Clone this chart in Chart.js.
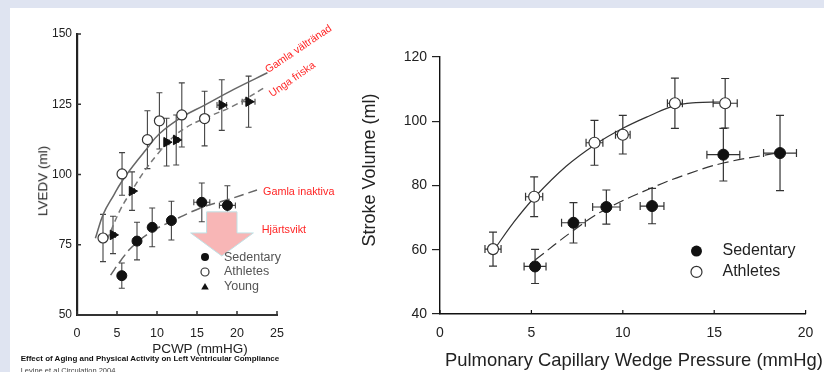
<!DOCTYPE html>
<html>
<head>
<meta charset="utf-8">
<script src="https://cdn.jsdelivr.net/npm/chart.js@4.4.1/dist/chart.umd.min.js"></script>
<style>
html, body { margin: 0; padding: 0; }
body { width: 824px; height: 372px; overflow: hidden; position: relative; background: #dfe4f1; font-family: "Liberation Sans", Arial, sans-serif; }
#paper { position: absolute; left: 10px; top: 8px; width: 814px; height: 364px; background: #fff; }
canvas { position: absolute; top: 0; }
#lvChart { left: 0; }
#svChart { left: 345px; }
.t { position: absolute; white-space: nowrap; line-height: 1; }
.red { color: #ff2424; font-size: 10.6px; }
.rot { transform-origin: 0 50%; }
.ytitle { transform: translate(-50%, -50%) rotate(-90deg); }
</style>
</head>
<body>
<div id="paper"></div>
<canvas id="lvChart" width="345" height="372"></canvas>
<canvas id="svChart" width="479" height="372"></canvas>

<div class="t ytitle" style="left:43px;top:181px;font-size:13.5px;color:#222">LVEDV (ml)</div>
<div class="t" style="left:200px;top:341.6px;font-size:13.5px;color:#222;transform:translateX(-50%)">PCWP (mmHG)</div>
<div class="t" style="left:20.7px;top:355.2px;font-size:8px;font-weight:bold;color:#111">Effect of Aging and Physical Activity on Left Ventricular Compliance</div>
<div class="t" style="left:20.7px;top:367.2px;font-size:7.5px;color:#444">Levine et al Circulation 2004</div>
<div class="t red rot" style="left:266px;top:64.7px;transform:rotate(-34deg)">Gamla vältränad</div>
<div class="t red rot" style="left:269.5px;top:89.2px;transform:rotate(-35deg)">Unga friska</div>
<div class="t red" style="left:263px;top:185.9px;font-size:10.8px">Gamla inaktiva</div>
<div class="t red" style="left:261.7px;top:224.2px;font-size:10.8px">Hjärtsvikt</div>

<div class="t ytitle" style="left:369px;top:170px;font-size:18px;color:#222">Stroke Volume (ml)</div>
<div class="t" style="left:445px;top:351.4px;font-size:18.4px;color:#222">Pulmonary Capillary Wedge Pressure (mmHg)</div>

<script>
// ---- left panel: LVEDV vs PCWP ----
const lvXTicks = [0, 5, 10, 15, 20, 25];
const lvYTicks = [50, 75, 100, 125, 150];

const lvSedX    = [5.6, 7.5, 9.4, 11.8, 15.6, 18.8];
const lvSedY    = [64, 76.3, 81.2, 83.6, 90.1, 89];
const lvSedErrY = [4.5, 6.7, 6.9, 6.9, 6.9, 7];
const lvSedErrX = [0.4, 0.4, 0.4, 0.4, 1.0, 1.0];

const lvAthX    = [3.25, 5.63, 8.8, 10.3, 13.1, 15.95];
const lvAthY    = [77.4, 100.2, 112.4, 119.1, 121.2, 119.9];
const lvAthErrY = [8.4, 7.6, 10.3, 10, 11.4, 9.7];
const lvAthErrX = [0.3, 0.3, 0.3, 0.3, 0.3, 0.4];

const lvYngX    = [4.5, 6.88, 11.2, 12.4, 18.1, 21.45];
const lvYngY    = [78.5, 94.1, 111.5, 112.3, 124.7, 125.9];
const lvYngErrY = [6.65, 6.85, 8.5, 8.9, 9, 9.1];
const lvYngErrX = [0.3, 0.3, 0.3, 0.3, 0.6, 0.8];

// fitted curves
const lvFitAthX = [2.3, 3.3, 4.6, 5.6, 7.1, 8.6, 10.3, 13.1, 15.9, 19.6, 23.8];
const lvFitAthY = [77.3, 86, 92.7, 97.5, 103.4, 108.7, 114.5, 120.4, 124.6, 130.3, 136.2];
const lvFitYngX = [3.75, 5.4, 6.9, 8.5, 10, 11.7, 13.5, 15.8, 19.6, 23.3];
const lvFitYngY = [76.7, 87.4, 94.5, 101.5, 107, 112.5, 116.5, 119.8, 124.5, 130.7];
const lvFitSedX = [4.2, 5.5, 6.9, 9.2, 11.7, 15.8, 18.8, 22.5];
const lvFitSedY = [64.2, 69.5, 74.3, 79.5, 83.2, 88.5, 91, 94.5];

// ---- right panel: stroke volume vs PCWP ----
const svXTicks = [0, 5, 10, 15, 20];
const svYTicks = [40, 60, 80, 100, 120];

const svSedX    = [5.2, 7.3, 9.1, 11.6, 15.5, 18.6];
const svSedY    = [54.8, 68.4, 73.3, 73.6, 89.6, 90.1];
const svSedErrY = [5.3, 6.3, 5.3, 5.5, 8.2, 11.7];
const svSedErrX = [0.6, 0.65, 0.75, 0.65, 0.9, 0.9];

const svAthX    = [2.9, 5.15, 8.45, 10.0, 12.85, 15.6];
const svAthY    = [60.2, 76.5, 93.3, 95.8, 105.6, 105.6];
const svAthErrY = [5.3, 6.2, 7, 6, 7.8, 7.7];
const svAthErrX = [0.44, 0.47, 0.46, 0.4, 0.41, 0.66];

const svFitAthX = [3.0, 4.0, 5.2, 6.9, 8.5, 10, 11.5, 12.8, 14, 15.3];
const svFitAthY = [60.3, 68.3, 76.5, 86, 92.8, 97.8, 101.8, 104.8, 105.8, 106];
const svFitSedX = [5.2, 7.3, 9.0, 11.6, 13.5, 15.5, 18.3];
const svFitSedY = [56.8, 66, 72.4, 79.3, 83.5, 87, 90];

const pts = (xs, ys) => xs.map((x, i) => ({ x: x, y: ys[i] }));

function mark(ctx, style, x, y, r) {
    ctx.beginPath();
    if (style === 'tri') {
        ctx.moveTo(x, y - r);
        ctx.lineTo(x + r * 0.95, y + r * 0.65);
        ctx.lineTo(x - r * 0.95, y + r * 0.65);
        ctx.closePath();
        ctx.fill();
    } else {
        ctx.arc(x, y, r, 0, Math.PI * 2);
        if (style === 'open') { ctx.fillStyle = '#fff'; ctx.fill(); ctx.stroke(); }
        else ctx.fill();
    }
}

const errorBars = {
    id: 'errorBars',
    beforeDatasetsDraw(chart, args, opts) {
        const ctx = chart.ctx, xs = chart.scales.x, ys = chart.scales.y;
        const c = opts.cap;
        ctx.save();
        ctx.strokeStyle = opts.color;
        ctx.lineWidth = opts.width;
        chart.data.datasets.forEach(ds => {
            if (!ds.errY) return;
            ds.data.forEach((p, i) => {
                const px = xs.getPixelForValue(p.x), py = ys.getPixelForValue(p.y);
                const y1 = ys.getPixelForValue(p.y + ds.errY[i]);
                const y2 = ys.getPixelForValue(p.y - ds.errY[i]);
                const x1 = xs.getPixelForValue(p.x - ds.errX[i]);
                const x2 = xs.getPixelForValue(p.x + ds.errX[i]);
                ctx.beginPath();
                ctx.moveTo(px, y1); ctx.lineTo(px, y2);
                ctx.moveTo(px - c, y1); ctx.lineTo(px + c, y1);
                ctx.moveTo(px - c, y2); ctx.lineTo(px + c, y2);
                ctx.moveTo(x1, py); ctx.lineTo(x2, py);
                ctx.moveTo(x1, py - c); ctx.lineTo(x1, py + c);
                ctx.moveTo(x2, py - c); ctx.lineTo(x2, py + c);
                ctx.stroke();
            });
        });
        ctx.restore();
    }
};

// small ticks pointing into the plot
const innerTicks = {
    id: 'innerTicks',
    afterDraw(chart, args, opts) {
        const ctx = chart.ctx, a = chart.chartArea;
        ctx.save();
        ctx.strokeStyle = opts.color;
        ctx.lineWidth = opts.width;
        ctx.beginPath();
        if (opts.x) chart.scales.x.ticks.forEach(t => {
            const px = chart.scales.x.getPixelForValue(t.value);
            ctx.moveTo(px, a.bottom); ctx.lineTo(px, a.bottom - opts.len);
        });
        if (opts.y) chart.scales.y.ticks.forEach(t => {
            const py = chart.scales.y.getPixelForValue(t.value);
            ctx.moveTo(a.left, py); ctx.lineTo(a.left + opts.len, py);
        });
        ctx.stroke();
        ctx.restore();
    }
};

const keyBox = {
    id: 'keyBox',
    afterDatasetsDraw(chart, args, opts) {
        const ctx = chart.ctx, xs = chart.scales.x, ys = chart.scales.y;
        ctx.save();
        ctx.font = opts.font;
        ctx.textBaseline = 'middle';
        opts.items.forEach(it => {
            const px = xs.getPixelForValue(opts.x), py = ys.getPixelForValue(it.y);
            ctx.fillStyle = '#111';
            ctx.strokeStyle = '#333';
            ctx.lineWidth = 1.2;
            mark(ctx, it.style, px, py, opts.r);
            ctx.fillStyle = opts.color;
            ctx.fillText(it.label, px + opts.gap, py);
        });
        ctx.restore();
    }
};

const downArrow = {
    id: 'downArrow',
    beforeDatasetsDraw(chart, args, o) {
        if (!o.on) return;
        const ctx = chart.ctx, xs = chart.scales.x, ys = chart.scales.y;
        const X = v => xs.getPixelForValue(v), Y = v => ys.getPixelForValue(v);
        ctx.save();
        ctx.beginPath();
        ctx.moveTo(X(o.shaft[0]), Y(o.top));
        ctx.lineTo(X(o.shaft[1]), Y(o.top));
        ctx.lineTo(X(o.shaft[1]), Y(o.neck));
        ctx.lineTo(X(o.head[1]), Y(o.neck));
        ctx.lineTo(X(o.tip), Y(o.tipY));
        ctx.lineTo(X(o.head[0]), Y(o.neck));
        ctx.lineTo(X(o.shaft[0]), Y(o.neck));
        ctx.closePath();
        ctx.fillStyle = '#f8b6b6';
        ctx.fill();
        ctx.strokeStyle = '#bfe2e6';
        ctx.lineWidth = 1;
        ctx.stroke();
        ctx.restore();
    }
};

Chart.register(errorBars, innerTicks, keyBox, downArrow);

function markerSet(xs, ys, ex, ey, style, r) {
    return {
        data: pts(xs, ys), errX: ex, errY: ey,
        pointStyle: style === 'tri' ? 'triangle' : 'circle',
        rotation: style === 'tri' ? 90 : 0,
        pointRadius: r,
        backgroundColor: style === 'open' ? '#fff' : '#111',
        borderColor: style === 'open' ? '#333' : '#111',
        pointBorderWidth: style === 'open' ? 1.2 : 1,
        showLine: false
    };
}

function curve(xs, ys, dash, color, width) {
    return {
        data: pts(xs, ys), showLine: true, pointRadius: 0,
        borderColor: color, borderWidth: width, borderDash: dash,
        tension: 0.4, fill: false
    };
}

document.addEventListener('DOMContentLoaded', function() {
    new Chart(document.getElementById('lvChart'), {
        type: 'scatter',
        data: {
            datasets: [
                markerSet(lvSedX, lvSedY, lvSedErrX, lvSedErrY, 'fill', 5),
                markerSet(lvAthX, lvAthY, lvAthErrX, lvAthErrY, 'open', 5),
                markerSet(lvYngX, lvYngY, lvYngErrX, lvYngErrY, 'tri', 5.5),
                curve(lvFitAthX, lvFitAthY, [], '#666', 1.5),
                curve(lvFitYngX, lvFitYngY, [6, 4], '#777', 1.5),
                curve(lvFitSedX, lvFitSedY, [10, 5], '#666', 1.5)
            ]
        },
        options: {
            responsive: false,
            animation: false,
            events: [],
            layout: { padding: { top: 34, right: 68, left: 0, bottom: 0 } },
            scales: {
                x: {
                    type: 'linear', min: 0, max: 25,
                    afterBuildTicks: s => { s.ticks = lvXTicks.map(v => ({ value: v })); },
                    afterFit: s => { s.height = 57; },
                    grid: { display: false, drawTicks: false },
                    border: { color: '#333', width: 2 },
                    ticks: { padding: 11, color: '#222', font: { family: 'Liberation Sans', size: 12.5 } }
                },
                y: {
                    type: 'linear', min: 50, max: 150,
                    afterBuildTicks: s => { s.ticks = lvYTicks.map(v => ({ value: v })); },
                    afterFit: s => { s.width = 77; },
                    grid: { display: false, drawTicks: false },
                    border: { color: '#222', width: 2.2 },
                    ticks: { padding: 5, color: '#222', font: { family: 'Liberation Sans', size: 12 } }
                }
            },
            plugins: {
                legend: { display: false },
                tooltip: { enabled: false },
                errorBars: { color: '#444', width: 1.1, cap: 3 },
                innerTicks: { x: true, y: true, len: 4, color: '#333', width: 1.5 },
                keyBox: {
                    x: 16, r: 4, gap: 19, color: '#555',
                    font: '12.5px "Liberation Sans"',
                    items: [
                        { label: 'Sedentary', style: 'fill', y: 70.6 },
                        { label: 'Athletes', style: 'open', y: 65.3 },
                        { label: 'Young', style: 'tri', y: 60 }
                    ]
                },
                downArrow: { on: true, shaft: [16.2, 20.0], head: [14.2, 22.05], top: 86.7, neck: 79.2, tip: 18.1, tipY: 71 }
            }
        }
    });

    new Chart(document.getElementById('svChart'), {
        type: 'scatter',
        data: {
            datasets: [
                markerSet(svSedX, svSedY, svSedErrX, svSedErrY, 'fill', 5.5),
                markerSet(svAthX, svAthY, svAthErrX, svAthErrY, 'open', 5.5),
                curve(svFitAthX, svFitAthY, [], '#333', 1.2),
                curve(svFitSedX, svFitSedY, [11, 5], '#333', 1.2)
            ]
        },
        options: {
            responsive: false,
            animation: false,
            events: [],
            layout: { padding: { top: 57, right: 18, left: 0, bottom: 0 } },
            scales: {
                x: {
                    type: 'linear', min: 0, max: 20,
                    afterBuildTicks: s => { s.ticks = svXTicks.map(v => ({ value: v })); },
                    afterFit: s => { s.height = 58; },
                    grid: { display: false, drawTicks: false },
                    border: { color: '#111', width: 1.4 },
                    ticks: { padding: 10.6, color: '#222', font: { family: 'Liberation Sans', size: 14 } }
                },
                y: {
                    type: 'linear', min: 40, max: 120,
                    afterBuildTicks: s => { s.ticks = svYTicks.map(v => ({ value: v })); },
                    afterFit: s => { s.width = 95; },
                    grid: { display: true, drawOnChartArea: false, drawTicks: true, tickLength: 8, color: '#222', lineWidth: 1.2 },
                    border: { color: '#111', width: 1.4 },
                    ticks: { padding: 5, color: '#222', font: { family: 'Liberation Sans', size: 14 } }
                }
            },
            plugins: {
                legend: { display: false },
                tooltip: { enabled: false },
                errorBars: { color: '#333', width: 1.2, cap: 4 },
                innerTicks: { x: true, y: false, len: 4, color: '#111', width: 1.2 },
                keyBox: {
                    x: 14.03, r: 5.5, gap: 26, color: '#222',
                    font: '16px "Liberation Sans"',
                    items: [
                        { label: 'Sedentary', style: 'fill', y: 59.6 },
                        { label: 'Athletes', style: 'open', y: 53.1 }
                    ]
                },
                downArrow: { on: false }
            }
        }
    });
});
</script>
</body>
</html>
